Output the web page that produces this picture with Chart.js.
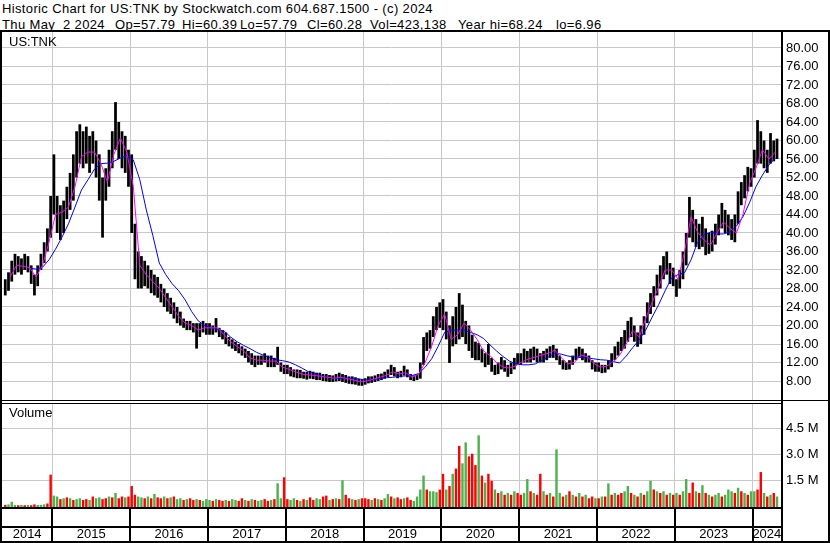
<!DOCTYPE html>
<html>
<head>
<meta charset="utf-8">
<script src="https://cdn.jsdelivr.net/npm/chart.js@4.4.1/dist/chart.umd.min.js"></script>
<style>
  body { margin: 0; background: #fff; }
  #wrap { position: relative; width: 830px; height: 543px; background: #fff; overflow: hidden;
          font-family: "Liberation Sans", Arial, sans-serif; color: #000; }
  .hdr { position: absolute; font-size: 13px; line-height: 15px; white-space: pre; letter-spacing: 0.36px; }
  .lbl { position: absolute; font-size: 13px; line-height: 15px; }
  .ln { position: absolute; background: #000; }
  canvas { position: absolute; left: 0; }
</style>
</head>
<body>
<div id="wrap">
  <div class="hdr" style="left:2px;top:1px">Historic Chart for US:TNK by Stockwatch.com 604.687.1500 - (c) 2024</div>
  <div class="hdr" style="left:2px;top:17px">Thu May  2 2024</div>
  <div class="hdr" style="left:115px;top:17px">Op=57.79</div>
  <div class="hdr" style="left:182px;top:17px">Hi=60.39</div>
  <div class="hdr" style="left:240px;top:17px">Lo=57.79</div>
  <div class="hdr" style="left:307px;top:17px">Cl=60.28</div>
  <div class="hdr" style="left:370px;top:17px">Vol=423,138</div>
  <div class="hdr" style="left:458px;top:17px">Year hi=68.24</div>
  <div class="hdr" style="left:556px;top:17px">lo=6.96</div>
  <canvas id="priceChart" width="830" height="368" style="top:32px"></canvas>
  <canvas id="volumeChart" width="830" height="142" style="top:401px"></canvas>
  <div class="lbl" style="left:9px;top:34px">US:TNK</div>
  <div class="lbl" style="left:9px;top:405px">Volume</div>
  <!-- frame lines -->
  <div class="ln" style="left:0;top:30px;width:830px;height:2px"></div>
  <div class="ln" style="left:0;top:30px;width:2px;height:513px"></div>
  <div class="ln" style="left:781px;top:30px;width:2px;height:513px"></div>
  <div class="ln" style="left:828px;top:30px;width:2px;height:513px"></div>
  <div class="ln" style="left:0;top:400px;width:830px;height:1px"></div>
  <div class="ln" style="left:0;top:403px;width:781px;height:1px"></div>
  <div class="ln" style="left:0;top:507px;width:783px;height:2px"></div>
  <div class="ln" style="left:0;top:526px;width:783px;height:2px"></div>
  <div class="ln" style="left:0;top:541px;width:830px;height:2px"></div>
</div>
<script>
// Time axis: half-month periods from mid May 2014 to early May 2024
const xMin = 2014.354;
const xMax = 2024.364;
const periodStart = 2014.375;
const yearLines = [2015, 2016, 2017, 2018, 2019, 2020, 2021, 2022, 2023, 2024];
const yearLabels = ['2014', '2015', '2016', '2017', '2018', '2019', '2020', '2021', '2022', '2023', '2024'];

// Price axis ticks and volume axis ticks
const priceTicks = [8, 12, 16, 20, 24, 28, 32, 36, 40, 44, 48, 52, 56, 60, 64, 68, 72, 76, 80];
const volumeTicks = [1.5, 3.0, 4.5];

// Half-month high / low ranges (one row per year)
const priceHigh = [
    30, 31.5, 34, 35.5, 35, 34.5, 35.5, 35, 33, 31, 33, 35.5, 38, 41, 48,
    57, 48, 46, 47, 50, 53, 57, 62, 63.5, 62, 63, 61, 62, 60, 57, 52, 54, 58, 62, 68.3, 64, 62, 61, 58,
    57, 42, 36, 35, 34, 33, 32, 31, 30.5, 29, 28, 27, 26, 25, 24, 23, 21.5, 21, 21, 20.5, 20.5, 20.5, 21, 20.5,
    20.5, 20, 21.6, 19.5, 19, 18.5, 17.5, 17, 16.5, 16, 15.5, 15, 14.5, 14, 13.5, 13.5, 13.5, 14, 13.5, 13.5, 13, 15.4, 12, 11.5,
    11.5, 11, 10.5, 10.5, 10.4, 10, 10, 10.2, 10, 9.8, 9.8, 9.5, 9.5, 9.3, 9.2, 9.5, 9.8, 9.5, 9.3, 9, 9, 8.8, 8.5, 8.4,
    8.6, 9, 9, 9.2, 9.5, 9.6, 10, 10.5, 11.5, 11, 10, 10.2, 11.3, 10.5, 9.5, 9.2, 9.5, 12, 17.5, 18.5, 19, 22, 24, 25,
    25.7, 23, 20, 22, 24, 27, 24.5, 21, 20, 18, 16.5, 16.2, 15, 14, 16, 13, 11.5, 12, 13.2, 12.5, 11.5, 12, 13, 14,
    14, 15, 14.5, 15, 15.4, 15, 14, 14.5, 15, 15.5, 15.8, 15, 13.5, 12.5, 12, 12.5, 13.5, 15, 15.4, 15, 14, 13.5, 12.5, 12,
    12, 11.5, 11.5, 12.5, 14, 15.5, 16.5, 17.5, 19, 21, 21.8, 20, 18.5, 20, 22, 25, 27, 28.5, 31, 33, 35, 36, 33.5, 32.5,
    30, 32, 36, 40, 47.8, 45, 43, 42, 43.5, 41, 40, 40.5, 42, 44, 46.5, 45, 44, 43, 44, 49, 51, 52.5, 54.3, 54,
    58, 64.4, 62, 60, 58, 61.6, 60, 60.4
];
const priceLow = [
    26.5, 27.5, 29.5, 31, 31.5, 31, 32, 31.5, 29, 26.5, 28.5, 32, 33.5, 36, 39,
    44, 40, 38.5, 40, 43, 45, 47, 52, 55, 54, 55, 53, 55, 52, 47, 39, 47, 50, 54, 58, 56, 54, 53, 50,
    40, 30, 28, 28, 28.5, 28, 27, 26.5, 26, 25, 24, 23, 22.5, 21.5, 20.5, 20, 19.5, 19, 19, 18.5, 15, 17.5, 18.5, 18,
    18, 18, 18.5, 17.5, 17, 16, 15.5, 15, 14.5, 14, 13.5, 13, 12, 11.5, 11, 11.5, 11.5, 12, 11, 11, 11, 11.5, 10, 9.5,
    9.5, 9, 8.8, 8.6, 8.6, 8.5, 8.3, 8.5, 8.4, 8.2, 8.2, 8, 7.9, 7.8, 7.8, 7.9, 8, 7.8, 7.6, 7.4, 7.3, 7.2, 7, 6.96,
    7.2, 7.5, 7.6, 7.8, 8, 8.2, 8.5, 8.8, 9.3, 9, 8.6, 8.8, 9.2, 8.8, 8.2, 8, 8.2, 8.5, 11.5, 14.5, 15, 17.5, 19, 19.5,
    19, 17, 11.9, 15.5, 16, 17, 17.5, 16, 14.5, 13, 12.5, 12.5, 12, 11, 11.5, 10, 9.3, 9.5, 10.5, 10, 8.9, 9.5, 10.5, 11.5,
    11.5, 12, 12, 12, 12.5, 12, 12, 12, 12.5, 13, 13, 12.5, 11.5, 10.5, 10.4, 10.5, 11.5, 12.5, 13, 12.5, 12, 12, 10.5, 10,
    10, 9.7, 9.8, 10.5, 11, 12.5, 13.5, 14.5, 15, 16.5, 17.5, 16.5, 15.4, 16, 18, 20.5, 22.5, 24, 26.5, 28, 30, 31, 29, 28.5,
    26.2, 28, 30, 33, 39, 38, 37, 36.5, 37, 35.2, 35.5, 36, 37.5, 39.5, 41, 40, 39.5, 38.5, 38, 42, 46, 47.5, 49, 50,
    52, 55, 55, 54, 53, 55, 55.5, 56
];

// Short moving average (magenta), monthly from Jun 2014
const fastStart = 2014 + 5 / 12;
const fastAvg = [
    30.5, 33, 32.8, 32.5, 30.5, 33, 38,
    44, 44.5, 45.6, 50, 56.5, 57.5, 57.5, 55, 51, 57, 60.5, 57.5,
    50, 33, 31, 29.5, 28, 26, 24, 22, 20.5, 20, 19, 19.5,
    19.5, 19.5, 18, 16.5, 15.5, 14.5, 13, 12.5, 12.5, 12.3, 12.3, 11,
    10.5, 10, 9.5, 9.3, 9.2, 9, 8.8, 8.6, 8.8, 8.5, 8.2, 7.8,
    8, 8.4, 8.8, 9.2, 10, 9.5, 9.8, 8.8, 9.5, 12, 15.5, 20,
    22.5, 17, 18, 20.5, 19, 17, 14.5, 13.5, 12, 11, 10.8, 11.3,
    12.2, 12.8, 13.2, 13.6, 14, 14.7, 13, 11.7, 12, 13.6, 13.3, 11.8,
    11, 11.2, 12.2, 13.6, 16, 19, 17.5, 21.5, 25, 28.3, 32, 32,
    30, 36, 43.5, 40.2, 38.5, 37.4, 40, 42.4, 41, 40, 44, 50.6,
    54, 58, 56, 57.5
];

// Long moving average (blue), monthly from Sep 2014
const slowStart = 2014 + 8 / 12;
const slowAvg = [
    32.4, 32.2, 32.6, 34.2,
    36.5, 39.1, 42, 45.6, 49.3, 51.5, 53.8, 55, 55.1, 55.5, 56.2, 56.8,
    55.8, 51.5, 45, 39.5, 33.5, 31, 29, 27.5, 25.5, 23, 21, 20,
    19.5, 19.1, 18.8, 17.5, 16.5, 15.7, 15, 14.2, 13.6, 13.1, 12.6, 12.4,
    12.1, 11.5, 10.8, 10, 9.5, 9.1, 8.8, 8.6, 8.6, 8.6, 8.6, 8.4,
    8.2, 8.3, 8.5, 8.7, 8.8, 9, 9.1, 9.2, 9.6, 11, 12.8, 15.5,
    18.5, 19, 19, 19, 18.5, 18, 17.2, 15.8, 14.5, 13.3, 12.3, 11.7,
    11.5, 11.5, 11.7, 12.5, 13.2, 14, 13.8, 13.4, 13.2, 13.1, 13, 12.8,
    12.6, 12.5, 12.2, 11.9, 13.4, 15.2, 16.9, 19, 21.8, 24.5, 27.5, 30.3,
    31, 31.4, 34.2, 38, 39.6, 40.2, 39.8, 39.8, 40.2, 41.5, 43.5, 46.5,
    50, 52.5, 54.7, 56.2
];

// Half-month volume peaks in millions, and up(g)/down(r) colour per period
const volume = [
    0.12, 0.15, 0.3, 0.12, 0.1, 0.12, 0.1, 0.12, 0.1, 0.15, 0.12, 0.12, 0.15, 0.2, 1.85,
    0.65, 0.6, 0.45, 0.5, 0.55, 0.5, 0.4, 0.45, 0.5, 0.4, 0.45, 0.4, 0.6, 0.5, 0.55, 0.45, 0.5, 0.6, 0.55, 0.8, 0.5, 0.6, 0.55, 0.6,
    1.2, 0.7, 0.6, 0.55, 0.5, 0.6, 0.5, 0.75, 0.55, 0.5, 0.6, 0.5, 0.55, 0.6, 0.45, 0.5, 0.4, 0.45, 0.5, 0.4, 0.45, 0.4, 0.35, 0.45,
    0.4, 0.35, 0.45, 0.4, 0.35, 0.4, 0.35, 0.45, 0.4, 0.35, 0.5, 0.4, 0.35, 0.45, 0.4, 0.35, 0.4, 0.45, 0.35, 0.4, 0.45, 1.36, 0.5, 1.7,
    0.45, 0.4, 0.5, 0.4, 0.35, 0.45, 0.4, 0.55, 0.4, 0.5, 0.45, 0.6, 0.65, 0.4, 0.45, 0.5, 0.45, 1.53, 0.7, 0.5, 0.45, 0.4, 0.45, 0.5,
    0.5, 0.45, 0.4, 0.5, 0.45, 0.4, 0.5, 0.74, 0.6, 0.5, 0.55, 0.45, 0.5, 0.55, 0.4, 0.35, 0.6, 1.0, 1.8, 1.0, 0.9, 0.9, 0.85, 1.0,
    1.9, 1.0, 1.2, 1.9, 2.2, 3.5, 2.5, 3.7, 2.9, 3.05, 2.4, 4.1, 1.8, 1.4, 1.9, 1.5, 1.0, 0.8, 0.9, 0.7, 0.8, 0.7, 0.9, 0.8,
    0.7, 0.8, 1.6, 0.9, 0.8, 0.7, 1.9, 0.9, 0.7, 0.8, 0.6, 3.3, 0.8, 0.6, 0.7, 0.9, 0.7, 0.6, 0.8, 0.6, 0.7, 0.5, 0.6, 0.5,
    0.5, 0.6, 0.6, 1.35, 0.7, 0.8, 0.7, 0.8, 0.9, 1.2, 0.8, 0.7, 0.6, 0.8, 0.7, 0.9, 1.5, 1.0, 0.9, 0.8, 0.9, 0.7, 0.8, 0.7,
    0.8, 0.7, 0.9, 1.6, 0.8, 1.4, 0.9, 0.8, 1.25, 0.8, 0.7, 0.6, 0.7, 0.8, 0.6, 0.7, 1.0, 0.9, 0.8, 1.1, 0.9, 0.8, 0.7, 0.9,
    0.9, 1.0, 2.0, 0.8, 0.6, 0.7, 0.8, 0.6
];
const volumeDir = [
    'rgggrgrgrrgggrr',
    'ggrgrgrggrrgrggrrgrgrrgr',
    'rrggrgrgrrgrgrggrgrrgrgg',
    'grgrrgrggrrgrgrggrrgrggr',
    'rggrgrgrrggrrgrgrgrrgrgr',
    'rrgrgrggrgrrgrrggggrgggr',
    'rgrgrrggrrrgrgrrgrgrgrgr',
    'rggrgrrgrgrggrgrgrgrgrrg',
    'rgrgrgrrggrgrgrggrgrgrgr',
    'grggrrgrgrgrggrgggrgrgrg',
    'grrgrgrg'
].join('');

const FONT = "'Liberation Sans', Arial, sans-serif";
const GRID = '#c8c8c8';
const volColours = { g: '#4cb34c', r: '#ff0000', n: '#a0a0a0' };

// x position helpers
function periodX(i) { return periodStart + (i + 0.5) / 24; }
function monthX(start, i) { return start + (i + 0.5) / 12; }

// Year label positions: middle of the visible part of each year
const yearMid = yearLabels.map(function (y) {
    const a = Math.max(+y, xMin), b = Math.min(+y + 1, xMax);
    return (a + b) / 2;
});

// keep the label overhang of an axis from shrinking the plot area
function noPad(s) { s.paddingTop = 0; s.paddingBottom = 0; s.paddingLeft = 0; s.paddingRight = 0; }

function yearGridAxis() {
    return {
        type: 'linear', min: xMin, max: xMax, offset: false,
        afterBuildTicks: function (s) { s.ticks = yearLines.map(function (v) { return { value: v }; }); },
        afterFit: function (s) { s.height = 0; noPad(s); },
        ticks: { display: false },
        grid: { color: GRID, drawTicks: false, offset: false },
        border: { display: false }
    };
}

// Main price chart
const priceCtx = document.getElementById('priceChart').getContext('2d');
const priceChart = new Chart(priceCtx, {
    type: 'line',
    data: {
        datasets: [
            {
                type: 'line', label: 'fast', order: 0,
                data: fastAvg.map(function (v, i) { return { x: monthX(fastStart, i), y: v }; }),
                borderColor: '#ff00ff', borderWidth: 1, pointRadius: 0, tension: 0
            },
            {
                type: 'line', label: 'slow', order: 1,
                data: slowAvg.map(function (v, i) { return { x: monthX(slowStart, i), y: v }; }),
                borderColor: '#0000ff', borderWidth: 1, pointRadius: 0, tension: 0
            },
            {
                type: 'bar', label: 'range', order: 2,
                data: priceHigh.map(function (h, i) { return { x: periodX(i), y: [priceLow[i], h] }; }),
                backgroundColor: '#000', borderWidth: 0,
                categoryPercentage: 1, barPercentage: 0.85
            }
        ]
    },
    options: {
        responsive: false, animation: false, devicePixelRatio: 1,
        layout: { autoPadding: false, padding: { left: 2, right: 0, top: 0, bottom: 0 } },
        plugins: { legend: { display: false }, tooltip: { enabled: false } },
        scales: {
            x: yearGridAxis(),
            y: {
                position: 'right', min: 3.892, max: 83.459,
                afterBuildTicks: function (s) { s.ticks = priceTicks.map(function (v) { return { value: v }; }); },
                afterFit: function (s) { s.width = 49; noPad(s); },
                ticks: {
                    padding: 5, color: '#000', font: { family: FONT, size: 13 },
                    callback: function (v) { return v.toFixed(2); }
                },
                grid: { color: GRID, drawTicks: false },
                border: { display: false }
            }
        }
    }
});

// Black separators between the year cells under the volume panel
const yearCells = {
    id: 'yearCells',
    afterDraw: function (chart) {
        const ctx = chart.ctx, xs = chart.scales.x, top = chart.chartArea.bottom;
        ctx.save();
        ctx.fillStyle = '#000';
        yearLines.forEach(function (y) {
            const px = Math.round(xs.getPixelForValue(y));
            ctx.fillRect(px - 1, top, 2, chart.height - top);
        });
        ctx.restore();
    }
};

// Volume chart
const volumeCtx = document.getElementById('volumeChart').getContext('2d');
const xTickValues = yearLines.concat(yearMid).sort(function (a, b) { return a - b; });
const volumeChart = new Chart(volumeCtx, {
    type: 'bar',
    data: {
        datasets: [{
            label: 'Volume',
            data: volume.map(function (v, i) { return { x: periodX(i), y: v }; }),
            backgroundColor: volume.map(function (v, i) { return volColours[volumeDir[i] || 'g']; }),
            borderWidth: 0, categoryPercentage: 1, barPercentage: 0.75
        }]
    },
    options: {
        responsive: false, animation: false, devicePixelRatio: 1,
        layout: { autoPadding: false, padding: { left: 2, right: 0, top: 3, bottom: 0 } },
        plugins: { legend: { display: false }, tooltip: { enabled: false } },
        scales: {
            x: {
                type: 'linear', min: xMin, max: xMax, offset: false,
                afterBuildTicks: function (s) { s.ticks = xTickValues.map(function (v) { return { value: v }; }); },
                afterFit: function (s) { s.height = 36; noPad(s); },
                ticks: {
                    autoSkip: false, maxRotation: 0, padding: 20, color: '#000',
                    font: { family: FONT, size: 13 },
                    callback: function (v) {
                        const k = yearMid.indexOf(v);
                        return k >= 0 ? yearLabels[k] : '';
                    }
                },
                grid: {
                    offset: false, drawTicks: false,
                    color: function (c) { return (c.tick && c.tick.label) ? 'rgba(0,0,0,0)' : GRID; }
                },
                border: { display: false }
            },
            y: {
                position: 'right', min: 0, max: 5.897,
                afterBuildTicks: function (s) { s.ticks = volumeTicks.map(function (v) { return { value: v }; }); },
                afterFit: function (s) { s.width = 49; noPad(s); },
                ticks: {
                    padding: 5, color: '#000', font: { family: FONT, size: 13 },
                    callback: function (v) { return v.toFixed(1) + ' M'; }
                },
                grid: { color: GRID, drawTicks: false },
                border: { display: false }
            }
        }
    },
    plugins: [yearCells]
});
</script>
</body>
</html>
